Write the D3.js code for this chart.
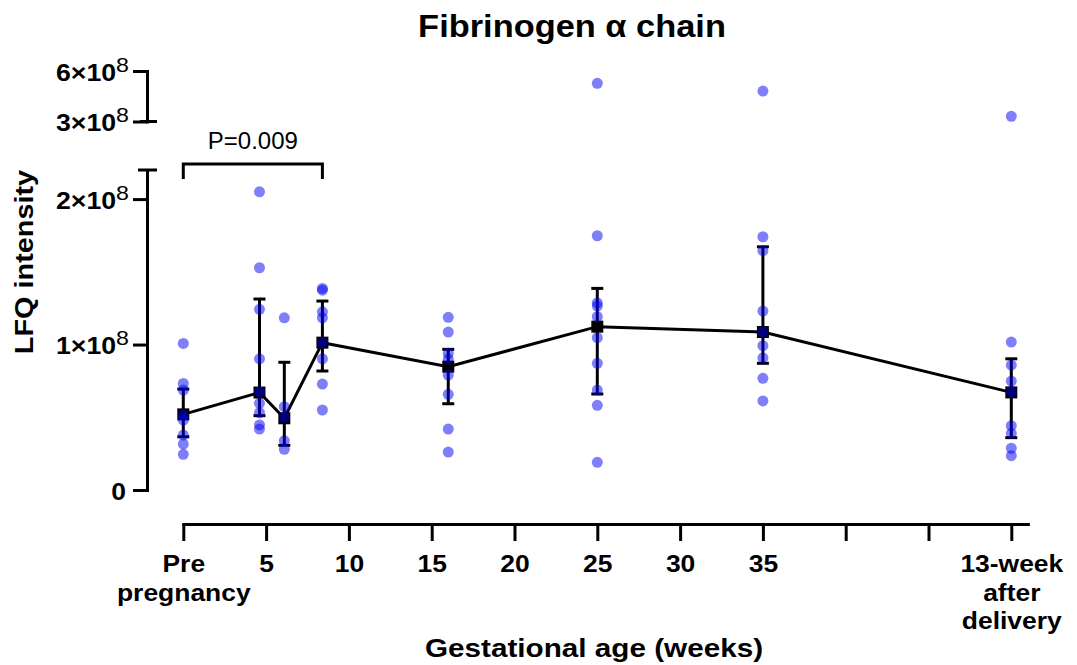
<!DOCTYPE html>
<html>
<head>
<meta charset="utf-8">
<script src="https://cdn.jsdelivr.net/npm/d3@7"></script>
<style>
  body { margin: 0; background: #fff; }
  svg { display: block; }
  text { font-family: "Liberation Sans", Arial, Helvetica, sans-serif; fill: #000; }
</style>
</head>
<body>
<svg id="chart" width="1077" height="665"></svg>
<script>
// ---- data ---------------------------------------------------------------
// Sampling time points (weeks; 0 = pre-pregnancy, 50 = 13 weeks after delivery)
const groupWeeks = [0, 4.6, 6.1, 8.4, 16, 25, 35, 50];

// Individual LFQ intensities per time point
const pointsPre    = [1.008e8, 0.733e8, 0.687e8, 0.515e8, 0.48e8, 0.378e8, 0.316e8, 0.245e8];
const pointsWk5    = [2.05e8, 1.528e8, 1.242e8, 0.902e8, 0.676e8, 0.596e8, 0.531e8, 0.447e8, 0.419e8];
const pointsWk6    = [1.184e8, 0.573e8, 0.50e8, 0.339e8, 0.28e8];
const pointsWk8    = [1.386e8, 1.374e8, 1.225e8, 1.184e8, 1.013e8, 0.902e8, 0.728e8, 0.55e8];
const pointsWk16   = [1.187e8, 1.086e8, 0.94e8, 0.90e8, 0.79e8, 0.658e8, 0.419e8, 0.261e8];
const pointsWk25   = [5.27e8, 1.748e8, 1.287e8, 1.265e8, 1.191e8, 1.047e8, 0.871e8, 0.687e8, 0.582e8, 0.19e8];
const pointsWk35   = [4.81e8, 1.741e8, 1.645e8, 1.23e8, 1.088e8, 0.992e8, 0.909e8, 0.768e8, 0.612e8];
const pointsPost   = [3.31e8, 1.017e8, 0.859e8, 0.749e8, 0.676e8, 0.442e8, 0.39e8, 0.287e8, 0.236e8];
const groupPoints  = [pointsPre, pointsWk5, pointsWk6, pointsWk8, pointsWk16, pointsWk25, pointsWk35, pointsPost];

// Summary (centre with lower / upper error limits)
const centerValues = [0.52e8, 0.67e8, 0.493e8, 1.013e8, 0.848e8, 1.123e8, 1.086e8, 0.671e8];
const lowerValues  = [0.366e8, 0.511e8, 0.307e8, 0.818e8, 0.593e8, 0.66e8, 0.871e8, 0.36e8];
const upperValues  = [0.694e8, 1.313e8, 0.878e8, 1.299e8, 0.967e8, 1.386e8, 1.672e8, 0.902e8];

// Axis ticks and labels
const xTickValues = [0, 5, 10, 15, 20, 25, 30, 35, 40, 45, 50];
const xTickLabels = [["Pre", "pregnancy"], ["5"], ["10"], ["15"], ["20"], ["25"], ["30"], ["35"], [""], [""], ["13-week", "after", "delivery"]];
const yLowTicks = [0, 1e8, 2e8];
const yTopTicks = [3e8, 6e8];

const titleText = "Fibrinogen \u03b1 chain";
const xTitle = "Gestational age (weeks)";
const yTitle = "LFQ intensity";
const pText = "P=0.009";
const pFrom = 0, pTo = 8.4;   // bracket spans pre-pregnancy to week 8.4

// ---- scales -------------------------------------------------------------
const x = d3.scaleLinear().domain([0, 51]).range([183.3, 183.3 + 51 * 16.56]);
const yLow = d3.scaleLinear().domain([0, 2.2e8]).range([490, 170]);
const yTop = d3.scaleLinear().domain([3e8, 6e8]).range([121.5, 71]);
const yPos = v => v >= 3e8 ? yTop(v) : yLow(v);

const K = 1.15;   // horizontal widening of the bold face
const svg = d3.select("#chart");

// ---- title --------------------------------------------------------------
svg.append("text")
  .attr("text-anchor", "middle").attr("font-size", 31).attr("font-weight", "bold")
  .attr("transform", "translate(572,37.3) scale(1.11,1)")
  .text(titleText);

// ---- x axis -------------------------------------------------------------
const gx = svg.append("g").attr("transform", "translate(0,524)")
  .call(d3.axisBottom(x).tickValues(xTickValues).tickSize(17).tickSizeOuter(0).tickFormat(""));
gx.selectAll(".tick text").remove();
gx.selectAll(".tick").each(function (d, i) {
  const t = d3.select(this).append("text")
    .attr("text-anchor", "middle").attr("font-size", 23).attr("font-weight", "bold")
    .attr("transform", `translate(0,48) scale(${K},1)`);
  xTickLabels[i].forEach((s, j) => t.append("tspan").attr("x", 0).attr("y", j * 28.7).text(s));
});

// ---- y axis (broken) ----------------------------------------------------
const gyLow = svg.append("g").attr("transform", "translate(147,0)")
  .call(d3.axisLeft(yLow).tickValues(yLowTicks).tickSize(14).tickSizeOuter(0).tickFormat(""));
const gyTop = svg.append("g").attr("transform", "translate(147,0)")
  .call(d3.axisLeft(yTop).tickValues(yTopTicks).tickSize(14).tickSizeOuter(0).tickFormat(""));

function yTickLabel(g) {
  g.selectAll(".tick text").remove();
  g.selectAll(".tick").each(function (d) {
    const t = d3.select(this).append("text")
      .attr("text-anchor", "end").attr("font-size", 23).attr("font-weight", "bold");
    if (d === 0) {
      t.attr("transform", `translate(-21,9) scale(${K},1)`).text("0");
    } else {
      const m = Math.round(d / 1e8);
      t.attr("transform", `translate(-18,9) scale(1.16,1)`);
      t.append("tspan").text(m + "\u00d710");
      t.append("tspan").attr("font-size", 20).attr("font-weight", "normal").attr("dy", -9).text("8");
    }
  });
}
yTickLabel(gyLow);
yTickLabel(gyTop);

// caps at the axis break
svg.append("line").attr("x1", 138).attr("x2", 157).attr("y1", yLow.range()[1]).attr("y2", yLow.range()[1]);
svg.append("line").attr("x1", 140).attr("x2", 157).attr("y1", yTop.range()[0]).attr("y2", yTop.range()[0]);

svg.selectAll(".domain, .tick line, line").attr("stroke", "#000").attr("stroke-width", 3);
svg.selectAll(".domain").attr("stroke-linecap", "square");

// ---- axis titles ----------------------------------------------------------
svg.append("text")
  .attr("text-anchor", "middle").attr("font-size", 26).attr("font-weight", "bold")
  .attr("transform", "translate(33,262) rotate(-90) scale(1.11,1)")
  .text(yTitle);
svg.append("text")
  .attr("text-anchor", "middle").attr("font-size", 26.5).attr("font-weight", "bold")
  .attr("transform", "translate(594,657.3) scale(1.12,1)")
  .text(xTitle);

// ---- significance bracket ----------------------------------------------
svg.append("path")
  .attr("d", `M${x(pFrom)},179V164H${x(pTo)}V179`)
  .attr("fill", "none").attr("stroke", "#000").attr("stroke-width", 3);
svg.append("text")
  .attr("text-anchor", "middle").attr("font-size", 24)
  .attr("x", (x(pFrom) + x(pTo)) / 2).attr("y", 149)
  .text(pText);

// ---- summary line, error bars, markers ---------------------------------
const summary = groupWeeks.map((w, i) => ({ w, c: centerValues[i], lo: lowerValues[i], hi: upperValues[i] }));

svg.append("path")
  .datum(summary)
  .attr("fill", "none").attr("stroke", "#000").attr("stroke-width", 3)
  .attr("d", d3.line().x(d => x(d.w)).y(d => yLow(d.c)));

const eb = svg.append("g").attr("stroke", "#000").attr("stroke-width", 3);
eb.selectAll(".v").data(summary).join("line")
  .attr("x1", d => x(d.w)).attr("x2", d => x(d.w))
  .attr("y1", d => yLow(d.lo)).attr("y2", d => yLow(d.hi));
eb.selectAll(".capHi").data(summary).join("line").attr("class", "capHi")
  .attr("x1", d => x(d.w) - 6).attr("x2", d => x(d.w) + 6)
  .attr("y1", d => yLow(d.hi)).attr("y2", d => yLow(d.hi));
eb.selectAll(".capLo").data(summary).join("line").attr("class", "capLo")
  .attr("x1", d => x(d.w) - 6).attr("x2", d => x(d.w) + 6)
  .attr("y1", d => yLow(d.lo)).attr("y2", d => yLow(d.lo));

svg.append("g").selectAll("rect").data(summary).join("rect")
  .attr("x", d => x(d.w) - 6).attr("y", d => yLow(d.c) - 6)
  .attr("width", 12).attr("height", 12).attr("fill", "#000");

// ---- individual points --------------------------------------------------
const pts = groupPoints.flatMap((arr, i) => arr.map(v => ({ w: groupWeeks[i], v })));
svg.append("g").selectAll("circle").data(pts).join("circle")
  .attr("cx", d => x(d.w)).attr("cy", d => yPos(d.v)).attr("r", 5.5)
  .attr("fill", "#0000f5").attr("fill-opacity", 0.5);
</script>
</body>
</html>
